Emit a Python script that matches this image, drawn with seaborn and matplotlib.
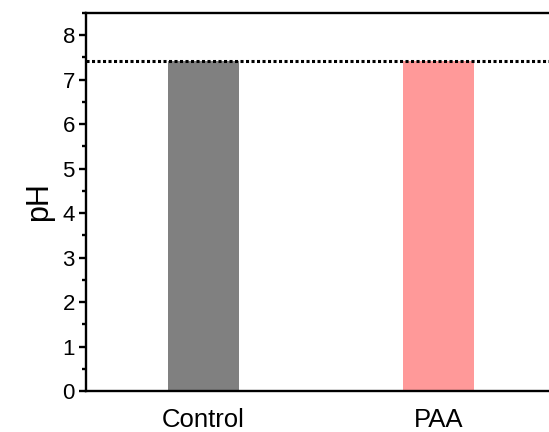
import matplotlib
matplotlib.use("Agg")
import matplotlib.pyplot as plt
import seaborn as sns
import pandas as pd
from matplotlib.ticker import MultipleLocator

categories = ["Control", "PAA"]
ph_values = [7.42, 7.42]
reference_ph = 7.42
bar_colors = ["#808080", "#FF9999"]

sns.set_style("ticks")
plt.rcParams["font.family"] = ["Liberation Sans", "DejaVu Sans"]
plt.rcParams["text.color"] = "black"
plt.rcParams["axes.labelcolor"] = "black"
plt.rcParams["xtick.color"] = "black"
plt.rcParams["ytick.color"] = "black"
plt.rcParams["axes.edgecolor"] = "black"

df = pd.DataFrame({"group": categories, "pH": ph_values})

fig = plt.figure(figsize=(5.49, 4.32), dpi=100)
ax = fig.add_axes([86 / 549, 41 / 432, 470 / 549, 378 / 432])

sns.barplot(data=df, x="group", y="pH", hue="group", palette=bar_colors,
            width=0.3, legend=False, ax=ax, linewidth=0, saturation=1)

ax.axhline(reference_ph, color="black", linestyle=(0, (1, 0.8)), linewidth=2.2, zorder=5)

ax.set_xlim(-0.5, 1.5)
ax.set_ylim(0, 8.5)
ax.yaxis.set_major_locator(MultipleLocator(1))
ax.yaxis.set_minor_locator(MultipleLocator(0.5))
ax.set_xlabel("")
ax.set_ylabel("pH", fontsize=22, labelpad=6, color="black")

for s in ax.spines.values():
    s.set_linewidth(1.7)
    s.set_color("black")
    s.set_visible(True)

ax.tick_params(axis="y", which="major", length=5, width=1.7, direction="out",
               labelsize=16, pad=3, colors="black")
ax.tick_params(axis="y", which="minor", length=2.8, width=1.7, direction="out", colors="black")
ax.tick_params(axis="x", which="both", length=0, labelsize=18.5, pad=12, colors="black")

fig.savefig("out.png", dpi=100)
